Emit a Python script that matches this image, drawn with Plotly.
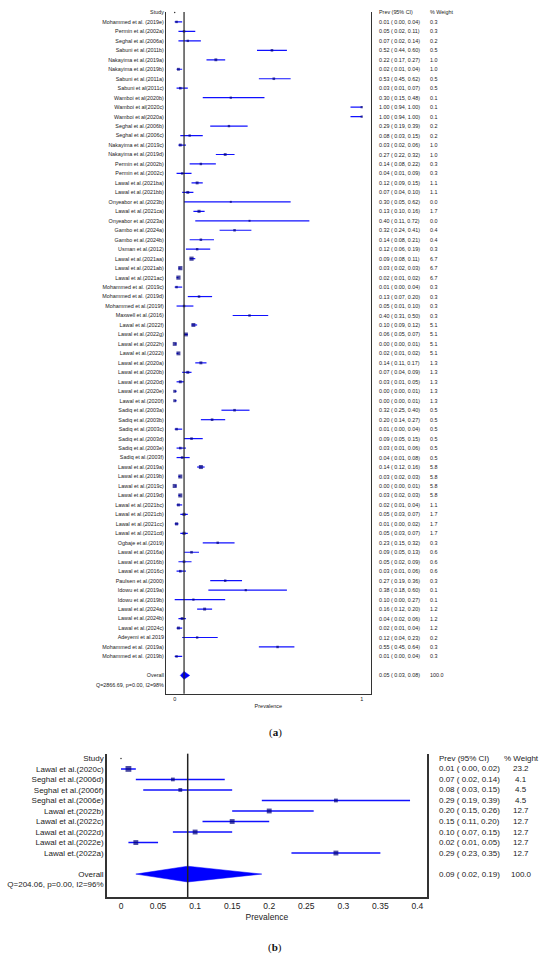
import plotly.graph_objects as go

# ---- panel (a) ----
studies_a = [
    "Mohammed et al. (2019e)", "Permin et al.(2002a)", "Seghal et al.(2006a)", "Sabuni et al.(2011b)",
    "Nakayima et al.(2019a)", "Nakayima et al.(2019b)", "Sabuni et al.(2011a)", "Sabuni et al(2011c)",
    "Wamboi et al(2020b)", "Wamboi et al(2020c)", "Wamboi et al(2020a)", "Seghal et al.(2006b)",
    "Seghal et al.(2006c)", "Nakayima et al.(2019c)", "Nakayima et al.(2019d)", "Permin et al.(2002b)",
    "Permin et al.(2002c)", "Lawal et al.(2021ba)", "Lawal et al.(2021bb)", "Onyeabor et al.(2023b)",
    "Lawal et al.(2021ca)", "Onyeabor et al.(2023a)", "Gambo et al.(2024a)", "Gambo et al.(2024b)",
    "Usman et al.(2012)", "Lawal et al.(2021aa)", "Lawal et al.(2021ab)", "Lawal et al.(2021ac)",
    "Mohammed et al. (2019c)", "Mohammed et al. (2019d)", "Mohammed et al.(2019f)", "Maxwell et al.(2016)",
    "Lawal et al.(2022f)", "Lawal et al.(2022g)", "Lawal et al.(2022h)", "Lawal et al.(2022i)",
    "Lawal et al.(2020a)", "Lawal et al.(2020b)", "Lawal et al.(2020d)", "Lawal et al.(2020e)",
    "Lawal et al.(2020f)", "Sadiq et al.(2003a)", "Sadiq et al.(2003b)", "Sadiq et al.(2003c)",
    "Sadiq et al.(2003d)", "Sadiq et al.(2003e)", "Sadiq et al.(2003f)", "Lawal et al.(2019a)",
    "Lawal et al.(2019b)", "Lawal et al.(2019c)", "Lawal et al.(2019d)", "Lawal et al.(2021bc)",
    "Lawal et al.(2021cb)", "Lawal et al.(2021cc)", "Lawal et al.(2021cd)", "Ogbaje et al.(2019)",
    "Lawal et al.(2016a)", "Lawal et al.(2016b)", "Lawal et al.(2016c)", "Paulsen et al.(2000)",
    "Idowu et al.(2019a)", "Idowu et al.(2019b)", "Lawal et al.(2024a)", "Lawal et al.(2024b)",
    "Lawal et al.(2024c)", "Adeyemi et al.2019", "Mohammed et al. (2019a)", "Mohammed et al. (2019b)",
]
prev_a = [0.01, 0.05, 0.07, 0.52, 0.22, 0.02, 0.53, 0.03, 0.30, 1.00, 1.00, 0.29, 0.08, 0.03, 0.27, 0.14,
          0.04, 0.12, 0.07, 0.30, 0.13, 0.40, 0.32, 0.14, 0.12, 0.09, 0.03, 0.02, 0.01, 0.13, 0.05, 0.40,
          0.10, 0.06, 0.00, 0.02, 0.14, 0.07, 0.03, 0.00, 0.00, 0.32, 0.20, 0.01, 0.09, 0.03, 0.04, 0.14,
          0.03, 0.00, 0.03, 0.02, 0.05, 0.01, 0.05, 0.23, 0.09, 0.05, 0.03, 0.27, 0.38, 0.10, 0.16, 0.04,
          0.02, 0.12, 0.55, 0.01]
lo_a = [0.00, 0.02, 0.02, 0.44, 0.17, 0.01, 0.45, 0.01, 0.15, 0.94, 0.94, 0.19, 0.03, 0.02, 0.22, 0.08,
        0.01, 0.09, 0.04, 0.05, 0.10, 0.11, 0.24, 0.08, 0.06, 0.08, 0.02, 0.01, 0.00, 0.07, 0.01, 0.31,
        0.09, 0.05, 0.00, 0.01, 0.11, 0.04, 0.01, 0.00, 0.00, 0.25, 0.14, 0.00, 0.05, 0.01, 0.01, 0.12,
        0.02, 0.00, 0.02, 0.01, 0.03, 0.00, 0.03, 0.15, 0.05, 0.02, 0.01, 0.19, 0.18, 0.00, 0.12, 0.02,
        0.01, 0.04, 0.45, 0.00]
hi_a = [0.04, 0.11, 0.14, 0.60, 0.27, 0.04, 0.62, 0.07, 0.48, 1.00, 1.00, 0.39, 0.15, 0.06, 0.32, 0.22,
        0.09, 0.15, 0.10, 0.62, 0.16, 0.72, 0.41, 0.21, 0.19, 0.11, 0.03, 0.02, 0.04, 0.20, 0.10, 0.50,
        0.12, 0.07, 0.01, 0.02, 0.17, 0.09, 0.05, 0.01, 0.01, 0.40, 0.27, 0.04, 0.15, 0.06, 0.08, 0.16,
        0.03, 0.01, 0.03, 0.04, 0.07, 0.02, 0.07, 0.32, 0.13, 0.09, 0.06, 0.36, 0.60, 0.27, 0.20, 0.06,
        0.04, 0.23, 0.64, 0.04]
weight_a = [0.3, 0.3, 0.2, 0.5, 1.0, 1.0, 0.5, 0.5, 0.1, 0.1, 0.1, 0.2, 0.2, 1.0, 1.0, 0.3,
            0.3, 1.1, 1.1, 0.0, 1.7, 0.0, 0.4, 0.4, 0.3, 6.7, 6.7, 6.7, 0.3, 0.3, 0.3, 0.3,
            5.1, 5.1, 5.1, 5.1, 1.3, 1.3, 1.3, 1.3, 1.3, 0.5, 0.5, 0.5, 0.5, 0.5, 0.5, 5.8,
            5.8, 5.8, 5.8, 1.1, 1.7, 1.7, 1.7, 0.3, 0.6, 0.6, 0.6, 0.3, 0.1, 0.1, 1.2, 1.2,
            1.2, 0.2, 0.3, 0.3]
overall_a = [0.05, 0.03, 0.08]
het_a = "Q=2866.69, p=0.00, I2=98%"

# ---- panel (b) ----
studies_b = ["Lawal et al.(2020c)", "Seghal et al.(2006d)", "Seghal et al.(2006f)", "Seghal et al.(2006e)",
             "Lawal et.(2022b)", "Lawal et al.(2022c)", "Lawal et al.(2022d)", "Lawal et al.(2022e)",
             "Lawal et.(2022a)"]
prev_b = [0.01, 0.07, 0.08, 0.29, 0.20, 0.15, 0.10, 0.02, 0.29]
lo_b = [0.00, 0.02, 0.03, 0.19, 0.15, 0.11, 0.07, 0.01, 0.23]
hi_b = [0.02, 0.14, 0.15, 0.39, 0.26, 0.20, 0.15, 0.05, 0.35]
weight_b = [23.2, 4.1, 4.5, 4.5, 12.7, 12.7, 12.7, 12.7, 12.7]
overall_b = [0.09, 0.02, 0.19]
het_b = "Q=204.06, p=0.00, I2=96%"

FONT = "Liberation Sans, Arial, sans-serif"
TXT = "#222222"
W, H = 550, 970

fig = go.Figure()
notes = []


def add_panel(xa, ya, studies, prev, lo, hi, wt, overall, fs, msize, dia_h, prev_px, wt_px, wt_anchor, lw):
    n = len(studies)
    rows = list(range(1, n + 1))
    ov_row = n + 2
    # confidence intervals + squares
    fig.add_trace(go.Scatter(
        x=prev, y=rows, mode="markers", xaxis=xa, yaxis=ya,
        marker=dict(symbol="square", color="#00007a", size=[msize(w) for w in wt],
                    line=dict(width=0)),
        error_x=dict(type="data", symmetric=False,
                     array=[h - p for p, h in zip(prev, hi)],
                     arrayminus=[p - l for p, l in zip(prev, lo)],
                     color="#1010ff", thickness=lw, width=0),
        cliponaxis=False,
    ))
    # overall diamond
    p, l, h = overall
    fig.add_trace(go.Scatter(
        x=[l, p, h, p, l], y=[ov_row, ov_row - dia_h, ov_row, ov_row + dia_h, ov_row],
        mode="lines", fill="toself", fillcolor="#0000ff", line=dict(color="#0000ff", width=0.5),
        xaxis=xa, yaxis=ya,
    ))
    # tiny header dot
    fig.add_trace(go.Scatter(x=[0], y=[0], mode="markers", xaxis=xa, yaxis=ya,
                             marker=dict(color="#333", size=1.5), cliponaxis=False))
    # text columns on the right (x in paper units, y on the row axis)
    ci_text = ["Prev (95% CI)"] + [f"{a:.2f} ( {b:.2f}, {c:.2f})" for a, b, c in zip(prev, lo, hi)] \
        + [f"{p:.2f} ( {l:.2f}, {h:.2f})"]
    wt_text = ["% Weight"] + [f"{w:.1f}" for w in wt] + ["100.0"]
    ci_rows = [0] + rows + [ov_row]
    for r, t1, t2 in zip(ci_rows, ci_text, wt_text):
        notes.append(dict(text=t1, x=prev_px / W, y=r, xref="paper", yref=ya, xanchor="left",
                          yanchor="middle", showarrow=False,
                          font=dict(family=FONT, size=fs, color=TXT)))
        notes.append(dict(text=t2, x=wt_px / W, y=r, xref="paper", yref=ya, xanchor=wt_anchor,
                          yanchor="middle", showarrow=False,
                          font=dict(family=FONT, size=fs, color=TXT)))
    fig.add_shape(type="line", xref=xa, yref=ya + " domain", x0=p, x1=p, y0=0, y1=1,
                  line=dict(color="#222", width=lw))
    return [0] + rows + [ov_row, ov_row + 1]


tv_a = add_panel("x", "y", studies_a, prev_a, lo_a, hi_a, weight_a, overall_a,
                 5.4, lambda w: 2 + 0.85 * w ** 0.5, 0.42, 377, 428, "left", 1.2)
tv_b = add_panel("x2", "y2", studies_b, prev_b, lo_b, hi_b, weight_b, overall_b,
                 8, lambda w: 2.2 + 0.75 * w ** 0.5, 0.75, 437, 521, "center", 1.5)

axis_common = dict(showgrid=False, zeroline=False, showline=True, linecolor="#333", ticks="")

notes += [
    dict(text="(<b>a</b>)", x=0.5, y=1 - 740 / H, xref="paper", yref="paper", showarrow=False,
         font=dict(family="Liberation Serif, Times New Roman, serif", size=11, color="#111")),
    dict(text="(<b>b</b>)", x=0.5, y=1 - 956 / H, xref="paper", yref="paper", showarrow=False,
         font=dict(family="Liberation Serif, Times New Roman, serif", size=11, color="#111")),
]

fig.update_layout(
    width=W, height=H, margin=dict(l=0, r=0, t=0, b=0),
    paper_bgcolor="white", plot_bgcolor="white", showlegend=False,
    xaxis=dict(axis_common, domain=[166 / W, 370.7 / W], range=[-0.0465, 1.048], anchor="y",
               tickvals=[0, 1], ticktext=["0", "1"], linewidth=1,
               tickfont=dict(family=FONT, size=5.5, color=TXT),
               title=dict(text="Prevalence", font=dict(family=FONT, size=5.5, color=TXT), standoff=2)),
    yaxis=dict(axis_common, domain=[1 - 693 / H, 1 - 9 / H], range=[71.95, -0.05], anchor="x",
               mirror=True, linewidth=1,
               tickvals=tv_a, ticktext=["Study"] + studies_a + ["Overall", het_a],
               tickfont=dict(family=FONT, size=5.4, color=TXT)),
    xaxis2=dict(axis_common, domain=[107 / W, 426.7 / W], range=[-0.0189, 0.4125], anchor="y2",
                tickvals=[0, 0.05, 0.1, 0.15, 0.2, 0.25, 0.3, 0.35, 0.4],
                ticktext=["0", "0.05", "0.1", "0.15", "0.2", "0.25", "0.3", "0.35", "0.4"],
                linewidth=1.5, tickfont=dict(family=FONT, size=8.5, color=TXT),
                title=dict(text="Prevalence", font=dict(family=FONT, size=8.5, color=TXT), standoff=4)),
    yaxis2=dict(axis_common, domain=[1 - 897 / H, 1 - 753 / H], range=[13.2, -0.45], anchor="x2",
                mirror=True, linewidth=1.5,
                tickvals=tv_b, ticktext=["Study"] + studies_b + ["Overall", het_b],
                tickfont=dict(family=FONT, size=8, color=TXT)),
    annotations=notes,
)

# the page body has a default 8px margin; drop it so the figure sits at (0, 0)
fig.write_html("out.html", config={"displayModeBar": False},
               post_script="document.body.style.margin='0';")
